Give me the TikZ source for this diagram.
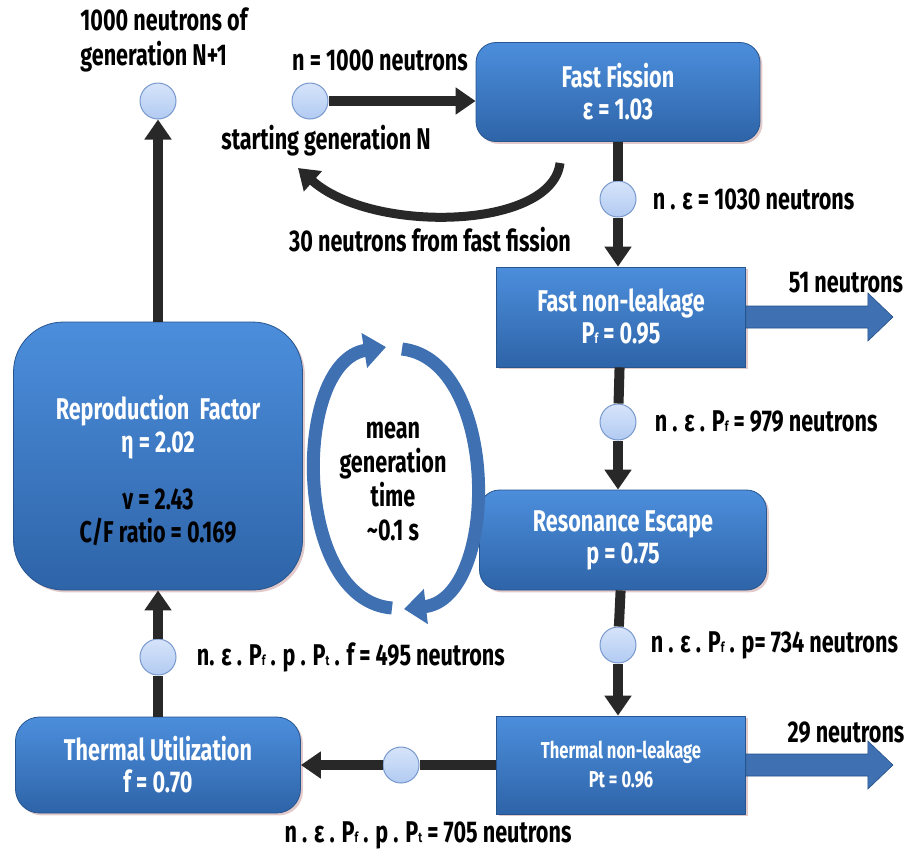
\documentclass[tikz,border=0pt]{standalone}
\usepackage{fontspec}
\setmainfont{Fira Sans}[FakeStretch=0.72]
\usetikzlibrary{arrows.meta,positioning,shadows}

\definecolor{bleuhaut}{RGB}{76,142,220}
\definecolor{bleubas}{RGB}{46,100,168}
\definecolor{bleucycle}{RGB}{62,112,178}
\definecolor{bulle}{RGB}{214,228,250}
\definecolor{bullebas}{RGB}{178,203,242}
\definecolor{bullebord}{RGB}{120,152,205}
\definecolor{fleche}{RGB}{40,40,40}
\definecolor{ombre}{RGB}{215,180,180}

\newcommand{\petit}[1]{{\scriptsize #1}}

\tikzset{
  boite/.style={draw=bleubas!85!black, line width=0.4pt, top color=bleuhaut, bottom color=bleubas,
    text=white, align=center, font=\fontsize{15}{16}\selectfont\bfseries,
    drop shadow={shadow xshift=1.2pt, shadow yshift=-1.2pt, fill=ombre, opacity=0.7}},
  bulle/.style={circle, minimum size=18pt, inner sep=0pt, draw=bullebord, line width=0.5pt,
    top color=bulle, bottom color=bullebas},
  txt/.style={inner sep=1pt, align=center, font=\fontsize{15}{17.5}\selectfont\bfseries},
  ligne/.style={line width=5pt, draw=fleche},
  flux/.style={ligne, -{Triangle[length=10pt,width=13pt]}},
  fuite/.style={fill=bleucycle, draw=bleubas!80!black, line width=0.3pt},
  cycle/.style={line width=6.5pt, draw=bleucycle, -{Triangle[length=11pt,width=17pt]}}
}

\begin{document}
\begin{tikzpicture}[x=0.5pt, y=-0.5pt]
\useasboundingbox (0,0) rectangle (908,853);

% Boites
\node[boite, rounded corners=10pt, minimum width=142pt, minimum height=49.5pt] (fission) at (618,92)
  {Fast Fission\\ε = 1.03};
\node[boite, minimum width=124.5pt, minimum height=50pt] (fastleak) at (621,317)
  {Fast non-leakage\\P\petit{f} = 0.95};
\node[boite, rounded corners=10pt, minimum width=143.5pt, minimum height=50pt] (reson) at (623,540)
  {Resonance Escape\\p = 0.75};
\node[boite, minimum width=124.5pt, minimum height=49pt, font=\fontsize{11.5}{14.5}\selectfont\bfseries] (thermleak) at (621,765)
  {Thermal non-leakage\\Pt = 0.96};
\node[boite, rounded corners=12pt, minimum width=142.5pt, minimum height=48pt] (thermutil) at (158,765)
  {Thermal Utilization\\f = 0.70};
\node[boite, rounded corners=25pt, minimum width=144.5pt, minimum height=134pt] (repro) at (158,456) {};
\node[txt, text=white, font=\fontsize{15}{16.5}\selectfont\bfseries] (reprotxt) at (158,470)
  {Reproduction~~Factor\\η = 2.02\\[12pt]\textcolor{black}{ν = 2.43}\\\textcolor{black}{C/F ratio = 0.169}};

% Bulles
\node[bulle] (c0) at (158,101) {};
\node[bulle] (start) at (310,101) {};
\node[bulle] (c1) at (618,199) {};
\node[bulle] (c2) at (618,422) {};
\node[bulle] (c3) at (618,645) {};
\node[bulle] (c4) at (401,765) {};
\node[bulle] (c5) at (158,657) {};

% Fleches noires
\draw[flux] (start) -- (start -| fission.west);
\draw[ligne] (fission) -- (c1);
\draw[flux] (c1) -- (c1 |- fastleak.north);
\draw[ligne] (fastleak) -- (c2);
\draw[flux] (c2) -- (c2 |- reson.north);
\draw[ligne] (reson) -- (c3);
\draw[flux] (c3) -- (c3 |- thermleak.north);
\draw[ligne] (thermleak) -- (c4);
\draw[flux] (c4) -- (thermutil);
\draw[ligne] (thermutil) -- (c5);
\draw[flux] (c5) -- (repro);
\draw[flux] (repro) -- (c0);

% Retour fission rapide
\coordinate (fbas) at (560,163);
\coordinate (fbout) at (298,168);
\draw[flux, line width=4.5pt] (fbas) .. controls (552,230) and (372,234) .. (fbout);

% Fuites
\draw[fuite] (fastleak.east) ++(0,-11) -- ++(122,0) -- ++(0,-13) -- ++(25,24) -- ++(-25,24) -- ++(0,-13) -- ++(-122,0) -- cycle;
\draw[fuite] (thermleak.east) ++(0,-11) -- ++(122,0) -- ++(0,-13) -- ++(25,24) -- ++(-25,24) -- ++(0,-13) -- ++(-122,0) -- cycle;

% Cycle
\coordinate (cyc1) at (392,608);
\coordinate (cyc2) at (386,347);
\coordinate (cyc3) at (402,349);
\coordinate (cyc4) at (404,609);
\draw[cycle] (cyc1) .. controls (292,600) and (292,362) .. (cyc2);
\draw[cycle] (cyc3) .. controls (500,360) and (500,598) .. (cyc4);

% Textes
\node[txt, align=left, anchor=west] (gen1) at (78,40) {1000 neutrons of\\generation N+1};
\node[txt] (n0) at (380,60) {n = 1000 neutrons};
\node[txt] (genN) at (326,141) {starting generation N};
\node[txt] (rapide) at (430,240) {30 neutrons from fast fission};
\node[txt, right=7pt of c1] (l1) {n . ε = 1030 neutrons};
\node[txt] (f51) at (846,283) {51 neutrons};
\node[txt, right=8pt of c2] (l2) {n . ε . P\petit{f} = 979 neutrons};
\node[txt, right=6pt of c3] (l3) {n . ε . P\petit{f} . p= 734 neutrons};
\node[txt] (f29) at (846,733) {29 neutrons};
\node[txt] (l4) at (428,835) {n . ε . P\petit{f} . p . P\petit{t} = 705 neutrons};
\node[txt, right=9pt of c5] (l5) {n. ε . P\petit{f} . p . P\petit{t} . f = 495 neutrons};
\node[txt, font=\fontsize{15}{17}\selectfont\bfseries] (temps) at (393,482) {mean\\generation\\time\\\textasciitilde0.1 s};
\end{tikzpicture}
\end{document}
